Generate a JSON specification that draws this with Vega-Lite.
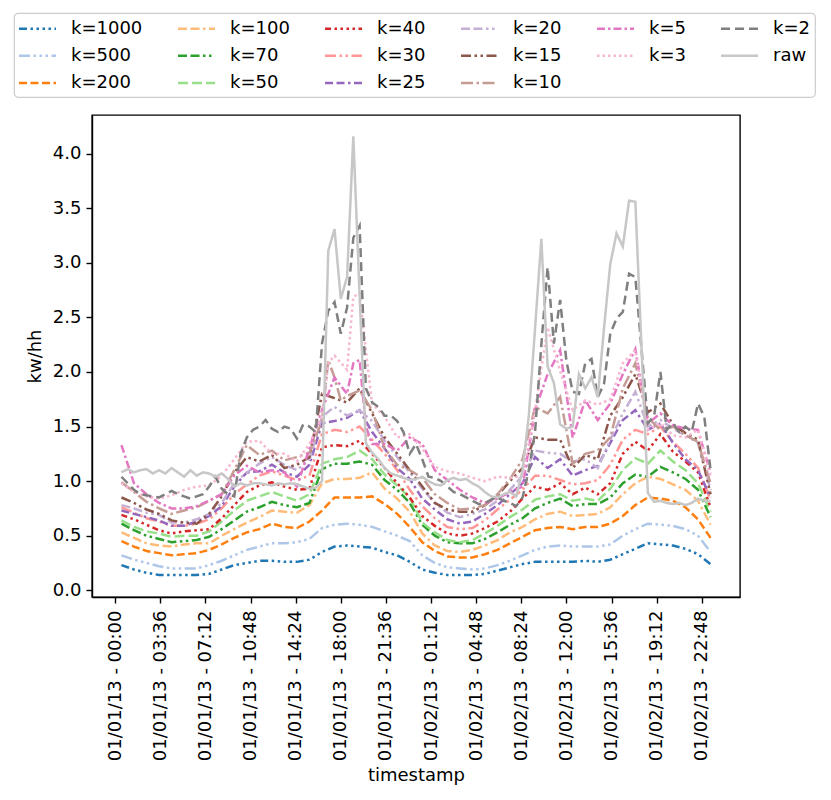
{
  "$schema": "https://vega.github.io/schema/vega-lite/v6.json",
  "width": 648,
  "height": 482,
  "autosize": {"type": "none"},
  "padding": {"left": 92, "top": 115, "right": 91, "bottom": 203},
  "background": "white",
  "data": {"values": [
    {"t":"2013-01-01T00:30","raw":1.08,"k=2":1.04,"k=1000":0.23,"k=500":0.32,"k=200":0.45,"k=100":0.53,"k=70":0.61,"k=50":0.64,"k=40":0.69,"k=30":0.76,"k=25":0.73,"k=20":0.78,"k=15":0.85,"k=10":0.99,"k=5":1.33,"k=3":0.98},
    {"t":"2013-01-01T01:00","raw":1.11,"k=2":0.98},
    {"t":"2013-01-01T01:30","raw":1.08,"k=2":0.92,"k=1000":0.19,"k=500":0.28,"k=200":0.40,"k=100":0.48,"k=70":0.55,"k=50":0.58,"k=40":0.65,"k=30":0.71,"k=25":0.70,"k=20":0.75,"k=15":0.80,"k=10":0.90,"k=5":0.98,"k=3":0.90},
    {"t":"2013-01-01T02:00","raw":1.10,"k=2":0.88},
    {"t":"2013-01-01T02:30","raw":1.11,"k=2":0.87,"k=1000":0.16,"k=500":0.25,"k=200":0.36,"k=100":0.43,"k=70":0.50,"k=50":0.54,"k=40":0.60,"k=30":0.66,"k=25":0.67,"k=20":0.71,"k=15":0.74,"k=10":0.81,"k=5":0.88,"k=3":0.86},
    {"t":"2013-01-01T03:00","raw":1.07,"k=2":0.86},
    {"t":"2013-01-01T03:30","raw":1.10,"k=2":0.85,"k=1000":0.14,"k=500":0.22,"k=200":0.34,"k=100":0.41,"k=70":0.47,"k=50":0.52,"k=40":0.55,"k=30":0.63,"k=25":0.64,"k=20":0.69,"k=15":0.70,"k=10":0.75,"k=5":0.80,"k=3":0.84},
    {"t":"2013-01-01T04:00","raw":1.07,"k=2":0.88},
    {"t":"2013-01-01T04:30","raw":1.12,"k=2":0.91,"k=1000":0.14,"k=500":0.20,"k=200":0.32,"k=100":0.40,"k=70":0.44,"k=50":0.49,"k=40":0.52,"k=30":0.59,"k=25":0.59,"k=20":0.62,"k=15":0.64,"k=10":0.70,"k=5":0.75,"k=3":0.87},
    {"t":"2013-01-01T05:00","raw":1.08,"k=2":0.88},
    {"t":"2013-01-01T05:30","raw":1.04,"k=2":0.86,"k=1000":0.14,"k=500":0.20,"k=200":0.33,"k=100":0.42,"k=70":0.45,"k=50":0.50,"k=40":0.54,"k=30":0.59,"k=25":0.59,"k=20":0.62,"k=15":0.62,"k=10":0.73,"k=5":0.75,"k=3":0.92},
    {"t":"2013-01-01T06:00","raw":1.10,"k=2":0.84},
    {"t":"2013-01-01T06:30","raw":1.05,"k=2":0.86,"k=1000":0.14,"k=500":0.20,"k=200":0.34,"k=100":0.43,"k=70":0.46,"k=50":0.50,"k=40":0.55,"k=30":0.61,"k=25":0.63,"k=20":0.65,"k=15":0.61,"k=10":0.76,"k=5":0.77,"k=3":0.95},
    {"t":"2013-01-01T07:00","raw":1.08,"k=2":0.88},
    {"t":"2013-01-01T07:30","raw":1.07,"k=2":0.95,"k=1000":0.15,"k=500":0.23,"k=200":0.37,"k=100":0.43,"k=70":0.49,"k=50":0.54,"k=40":0.56,"k=30":0.65,"k=25":0.68,"k=20":0.70,"k=15":0.70,"k=10":0.82,"k=5":0.82,"k=3":0.96},
    {"t":"2013-01-01T08:00","raw":1.04,"k=2":1.04},
    {"t":"2013-01-01T08:30","raw":1.07,"k=2":0.93,"k=1000":0.19,"k=500":0.27,"k=200":0.42,"k=100":0.50,"k=70":0.56,"k=50":0.63,"k=40":0.66,"k=30":0.75,"k=25":0.77,"k=20":0.80,"k=15":0.86,"k=10":0.88,"k=5":0.88,"k=3":1.05},
    {"t":"2013-01-01T09:00","raw":1.02,"k=2":0.88},
    {"t":"2013-01-01T09:30","raw":0.95,"k=2":0.86,"k=1000":0.23,"k=500":0.32,"k=200":0.48,"k=100":0.56,"k=70":0.64,"k=50":0.73,"k=40":0.78,"k=30":0.88,"k=25":0.95,"k=20":0.98,"k=15":1.08,"k=10":1.10,"k=5":1.05,"k=3":1.20},
    {"t":"2013-01-01T10:00","raw":0.98,"k=2":1.25},
    {"t":"2013-01-01T10:30","raw":0.96,"k=2":1.40,"k=1000":0.25,"k=500":0.37,"k=200":0.53,"k=100":0.62,"k=70":0.72,"k=50":0.82,"k=40":0.90,"k=30":0.97,"k=25":1.08,"k=20":1.08,"k=15":1.22,"k=10":1.33,"k=5":1.14,"k=3":1.36},
    {"t":"2013-01-01T11:00","raw":0.98,"k=2":1.47},
    {"t":"2013-01-01T11:30","raw":0.98,"k=2":1.50,"k=1000":0.27,"k=500":0.40,"k=200":0.56,"k=100":0.67,"k=70":0.76,"k=50":0.86,"k=40":0.96,"k=30":1.05,"k=25":1.09,"k=20":1.16,"k=15":1.18,"k=10":1.24,"k=5":1.08,"k=3":1.37},
    {"t":"2013-01-01T12:00","raw":0.97,"k=2":1.56},
    {"t":"2013-01-01T12:30","raw":0.96,"k=2":1.48,"k=1000":0.27,"k=500":0.43,"k=200":0.61,"k=100":0.73,"k=70":0.81,"k=50":0.90,"k=40":0.99,"k=30":1.09,"k=25":1.15,"k=20":1.22,"k=15":1.24,"k=10":1.28,"k=5":1.10,"k=3":1.25},
    {"t":"2013-01-01T13:00","raw":0.98,"k=2":1.45},
    {"t":"2013-01-01T13:30","raw":0.97,"k=2":1.50,"k=1000":0.26,"k=500":0.43,"k=200":0.58,"k=100":0.72,"k=70":0.78,"k=50":0.86,"k=40":0.95,"k=30":1.05,"k=25":1.08,"k=20":1.15,"k=15":1.12,"k=10":1.19,"k=5":1.08,"k=3":1.25},
    {"t":"2013-01-01T14:00","raw":0.98,"k=2":1.48},
    {"t":"2013-01-01T14:30","raw":0.97,"k=2":1.39,"k=1000":0.26,"k=500":0.44,"k=200":0.57,"k=100":0.71,"k=70":0.76,"k=50":0.82,"k=40":0.92,"k=30":1.01,"k=25":1.04,"k=20":1.10,"k=15":1.15,"k=10":1.22,"k=5":0.95,"k=3":1.18},
    {"t":"2013-01-01T15:00","raw":0.95,"k=2":1.52},
    {"t":"2013-01-01T15:30","raw":0.93,"k=2":1.50,"k=1000":0.28,"k=500":0.47,"k=200":0.63,"k=100":0.78,"k=70":0.80,"k=50":0.88,"k=40":0.93,"k=30":1.05,"k=25":1.15,"k=20":1.20,"k=15":1.22,"k=10":1.26,"k=5":1.30,"k=3":1.34},
    {"t":"2013-01-01T16:00","raw":0.94,"k=2":1.45},
    {"t":"2013-01-01T16:30","raw":1.00,"k=2":2.26,"k=1000":0.35,"k=500":0.57,"k=200":0.73,"k=100":0.98,"k=70":1.11,"k=50":1.16,"k=40":1.31,"k=30":1.43,"k=25":1.53,"k=20":1.59,"k=15":1.80,"k=10":1.55,"k=5":1.65,"k=3":1.60},
    {"t":"2013-01-01T17:00","raw":3.11,"k=2":2.56,"k=10":2.11,"k=3":2.08},
    {"t":"2013-01-01T17:30","raw":3.31,"k=2":2.64,"k=1000":0.40,"k=500":0.60,"k=200":0.85,"k=100":1.02,"k=70":1.16,"k=50":1.20,"k=40":1.33,"k=30":1.47,"k=25":1.55,"k=20":1.68,"k=15":1.76,"k=10":1.95,"k=5":1.95,"k=3":2.15},
    {"t":"2013-01-01T18:00","raw":2.67,"k=2":2.35,"k=10":1.74},
    {"t":"2013-01-01T18:30","raw":2.87,"k=2":2.59,"k=1000":0.41,"k=500":0.61,"k=200":0.85,"k=100":1.02,"k=70":1.16,"k=50":1.22,"k=40":1.32,"k=30":1.45,"k=25":1.58,"k=20":1.60,"k=15":1.72,"k=10":1.78,"k=5":1.80,"k=3":2.02},
    {"t":"2013-01-01T19:00","raw":4.16,"k=2":3.23,"k=5":2.08,"k=3":2.69},
    {"t":"2013-01-01T19:30","raw":2.70,"k=2":3.34,"k=1000":0.40,"k=500":0.60,"k=200":0.85,"k=100":1.03,"k=70":1.18,"k=50":1.28,"k=40":1.37,"k=30":1.50,"k=25":1.65,"k=20":1.65,"k=15":1.85,"k=10":1.83,"k=5":2.11,"k=3":2.72},
    {"t":"2013-01-01T20:00","raw":1.35,"k=2":1.85,"k=5":1.50,"k=3":2.20},
    {"t":"2013-01-01T20:30","raw":1.26,"k=2":1.72,"k=1000":0.39,"k=500":0.58,"k=200":0.86,"k=100":1.08,"k=70":1.15,"k=50":1.20,"k=40":1.25,"k=30":1.38,"k=25":1.45,"k=20":1.55,"k=15":1.62,"k=10":1.65,"k=5":1.34,"k=3":1.71},
    {"t":"2013-01-01T21:00","raw":1.20,"k=2":1.68},
    {"t":"2013-01-01T21:30","raw":1.12,"k=2":1.60,"k=1000":0.35,"k=500":0.54,"k=200":0.79,"k=100":0.93,"k=70":1.01,"k=50":1.06,"k=40":1.12,"k=30":1.25,"k=25":1.30,"k=20":1.37,"k=15":1.40,"k=10":1.30,"k=5":1.34,"k=3":1.59},
    {"t":"2013-01-01T22:00","raw":1.07,"k=2":1.60},
    {"t":"2013-01-01T22:30","raw":1.05,"k=2":1.55,"k=1000":0.32,"k=500":0.50,"k=200":0.70,"k=100":0.84,"k=70":0.92,"k=50":0.96,"k=40":0.98,"k=30":1.10,"k=25":1.12,"k=20":1.22,"k=15":1.25,"k=10":1.15,"k=5":1.28,"k=3":1.40},
    {"t":"2013-01-01T23:00","raw":1.03,"k=2":1.45},
    {"t":"2013-01-01T23:30","raw":1.01,"k=2":1.25,"k=1000":0.26,"k=500":0.45,"k=200":0.58,"k=100":0.72,"k=70":0.80,"k=50":0.85,"k=40":0.85,"k=30":0.92,"k=25":1.02,"k=20":1.08,"k=15":1.10,"k=10":1.10,"k=5":1.40,"k=3":1.43},
    {"t":"2013-01-02T00:00","raw":1.02,"k=2":1.34},
    {"t":"2013-01-02T00:30","raw":1.04,"k=2":1.20,"k=1000":0.19,"k=500":0.32,"k=200":0.44,"k=100":0.52,"k=70":0.60,"k=50":0.62,"k=40":0.68,"k=30":0.77,"k=25":0.84,"k=20":0.93,"k=15":0.95,"k=10":1.03,"k=5":1.34,"k=3":1.30},
    {"t":"2013-01-02T01:00","raw":1.00,"k=2":1.04},
    {"t":"2013-01-02T01:30","raw":0.97,"k=2":1.03,"k=1000":0.16,"k=500":0.25,"k=200":0.36,"k=100":0.41,"k=70":0.50,"k=50":0.53,"k=40":0.59,"k=30":0.66,"k=25":0.74,"k=20":0.80,"k=15":0.80,"k=10":0.88,"k=5":1.10,"k=3":1.13},
    {"t":"2013-01-02T02:00","raw":0.96,"k=2":1.00},
    {"t":"2013-01-02T02:30","raw":1.01,"k=2":0.95,"k=1000":0.14,"k=500":0.21,"k=200":0.31,"k=100":0.36,"k=70":0.44,"k=50":0.46,"k=40":0.52,"k=30":0.58,"k=25":0.65,"k=20":0.71,"k=15":0.74,"k=10":0.80,"k=5":1.01,"k=3":1.09},
    {"t":"2013-01-02T03:00","raw":1.03,"k=2":0.90},
    {"t":"2013-01-02T03:30","raw":1.01,"k=2":0.88,"k=1000":0.14,"k=500":0.20,"k=200":0.30,"k=100":0.35,"k=70":0.43,"k=50":0.44,"k=40":0.50,"k=30":0.56,"k=25":0.61,"k=20":0.67,"k=15":0.72,"k=10":0.74,"k=5":0.92,"k=3":1.07},
    {"t":"2013-01-02T04:00","raw":1.02,"k=2":0.85},
    {"t":"2013-01-02T04:30","raw":0.98,"k=2":0.82,"k=1000":0.14,"k=500":0.19,"k=200":0.30,"k=100":0.37,"k=70":0.43,"k=50":0.46,"k=40":0.52,"k=30":0.57,"k=25":0.63,"k=20":0.70,"k=15":0.72,"k=10":0.75,"k=5":0.85,"k=3":1.03},
    {"t":"2013-01-02T05:00","raw":0.95,"k=2":0.79},
    {"t":"2013-01-02T05:30","raw":0.90,"k=2":0.80,"k=1000":0.15,"k=500":0.20,"k=200":0.33,"k=100":0.41,"k=70":0.47,"k=50":0.52,"k=40":0.57,"k=30":0.64,"k=25":0.70,"k=20":0.74,"k=15":0.78,"k=10":0.78,"k=5":0.80,"k=3":1.00},
    {"t":"2013-01-02T06:00","raw":0.86,"k=2":0.83},
    {"t":"2013-01-02T06:30","raw":0.85,"k=2":0.85,"k=1000":0.18,"k=500":0.23,"k=200":0.37,"k=100":0.46,"k=70":0.53,"k=50":0.59,"k=40":0.63,"k=30":0.74,"k=25":0.78,"k=20":0.82,"k=15":0.87,"k=10":0.88,"k=5":0.84,"k=3":1.04},
    {"t":"2013-01-02T07:00","raw":0.88,"k=2":0.82},
    {"t":"2013-01-02T07:30","raw":0.90,"k=2":0.80,"k=1000":0.21,"k=500":0.27,"k=200":0.43,"k=100":0.53,"k=70":0.60,"k=50":0.67,"k=40":0.72,"k=30":0.83,"k=25":0.88,"k=20":0.92,"k=15":1.00,"k=10":1.02,"k=5":0.90,"k=3":1.03},
    {"t":"2013-01-02T08:00","raw":0.86,"k=2":0.77},
    {"t":"2013-01-02T08:30","raw":1.10,"k=2":0.85,"k=1000":0.24,"k=500":0.32,"k=200":0.49,"k=100":0.58,"k=70":0.66,"k=50":0.74,"k=40":0.84,"k=30":0.92,"k=25":0.98,"k=20":1.05,"k=15":1.12,"k=10":1.20,"k=5":0.95,"k=3":1.05},
    {"t":"2013-01-02T09:00","raw":1.60,"k=2":1.10},
    {"t":"2013-01-02T09:30","raw":2.40,"k=2":1.45,"k=1000":0.26,"k=500":0.37,"k=200":0.55,"k=100":0.65,"k=70":0.75,"k=50":0.83,"k=40":0.95,"k=30":1.05,"k=25":1.22,"k=20":1.28,"k=15":1.40,"k=10":1.68,"k=5":1.65,"k=3":1.65},
    {"t":"2013-01-02T10:00","raw":3.22,"k=2":2.25},
    {"t":"2013-01-02T10:30","raw":2.05,"k=2":2.96,"k=1000":0.26,"k=500":0.40,"k=200":0.57,"k=100":0.70,"k=70":0.80,"k=50":0.86,"k=40":0.92,"k=30":1.05,"k=25":1.12,"k=20":1.26,"k=15":1.38,"k=10":1.62,"k=5":1.98,"k=3":2.41},
    {"t":"2013-01-02T11:00","raw":1.90,"k=2":2.26},
    {"t":"2013-01-02T11:30","raw":1.52,"k=2":2.66,"k=1000":0.26,"k=500":0.41,"k=200":0.58,"k=100":0.72,"k=70":0.84,"k=50":0.88,"k=40":0.98,"k=30":1.01,"k=25":1.20,"k=20":1.25,"k=15":1.38,"k=10":1.77,"k=5":2.20,"k=3":2.01},
    {"t":"2013-01-02T12:00","raw":1.48,"k=2":2.10},
    {"t":"2013-01-02T12:30","raw":1.50,"k=2":1.82,"k=1000":0.26,"k=500":0.40,"k=200":0.56,"k=100":0.68,"k=70":0.77,"k=50":0.82,"k=40":0.88,"k=30":0.97,"k=25":1.05,"k=20":1.18,"k=15":1.12,"k=10":1.16,"k=5":1.40,"k=3":1.65},
    {"t":"2013-01-02T13:00","raw":1.98,"k=2":1.80},
    {"t":"2013-01-02T13:30","raw":1.85,"k=2":2.08,"k=1000":0.27,"k=500":0.40,"k=200":0.58,"k=100":0.69,"k=70":0.79,"k=50":0.84,"k=40":0.94,"k=30":0.98,"k=25":1.10,"k=20":1.20,"k=15":1.24,"k=10":1.25,"k=5":1.74,"k=3":1.74},
    {"t":"2013-01-02T14:00","raw":1.95,"k=2":2.12},
    {"t":"2013-01-02T14:30","raw":1.77,"k=2":1.77,"k=1000":0.26,"k=500":0.40,"k=200":0.58,"k=100":0.70,"k=70":0.79,"k=50":0.82,"k=40":0.88,"k=30":1.01,"k=25":1.14,"k=20":1.12,"k=15":1.20,"k=10":1.28,"k=5":1.56,"k=3":1.70},
    {"t":"2013-01-02T15:00","raw":2.40,"k=2":1.89},
    {"t":"2013-01-02T15:30","raw":2.99,"k=2":2.35,"k=1000":0.28,"k=500":0.42,"k=200":0.61,"k=100":0.76,"k=70":0.85,"k=50":0.93,"k=40":0.98,"k=30":1.15,"k=25":1.35,"k=20":1.38,"k=15":1.60,"k=10":1.40,"k=5":1.71,"k=3":1.75},
    {"t":"2013-01-02T16:00","raw":3.27,"k=2":2.49},
    {"t":"2013-01-02T16:30","raw":3.15,"k=2":2.55,"k=1000":0.33,"k=500":0.50,"k=200":0.68,"k=100":0.88,"k=70":0.98,"k=50":1.10,"k=40":1.25,"k=30":1.38,"k=25":1.56,"k=20":1.62,"k=15":1.77,"k=10":1.85,"k=5":1.98,"k=3":2.08},
    {"t":"2013-01-02T17:00","raw":3.57,"k=2":2.90},
    {"t":"2013-01-02T17:30","raw":3.56,"k=2":2.87,"k=1000":0.38,"k=500":0.56,"k=200":0.78,"k=100":0.98,"k=70":1.06,"k=50":1.21,"k=40":1.36,"k=30":1.47,"k=25":1.65,"k=20":1.82,"k=15":1.98,"k=10":2.08,"k=5":2.21,"k=3":2.20},
    {"t":"2013-01-02T18:00","raw":2.20,"k=2":2.20},
    {"t":"2013-01-02T18:30","raw":0.89,"k=2":1.53,"k=1000":0.43,"k=500":0.61,"k=200":0.85,"k=100":1.04,"k=70":1.04,"k=50":1.16,"k=40":1.28,"k=30":1.43,"k=25":1.47,"k=20":1.50,"k=15":1.63,"k=10":1.58,"k=5":1.53,"k=3":1.47},
    {"t":"2013-01-02T19:00","raw":0.81,"k=2":1.60},
    {"t":"2013-01-02T19:30","raw":0.82,"k=2":2.00,"k=1000":0.42,"k=500":0.60,"k=200":0.84,"k=100":1.02,"k=70":1.13,"k=50":1.28,"k=40":1.43,"k=30":1.50,"k=25":1.53,"k=20":1.56,"k=15":1.71,"k=10":1.47,"k=5":1.62,"k=3":1.53},
    {"t":"2013-01-02T20:00","raw":0.80,"k=2":1.47},
    {"t":"2013-01-02T20:30","raw":0.79,"k=2":1.53,"k=1000":0.41,"k=500":0.59,"k=200":0.82,"k=100":0.97,"k=70":1.08,"k=50":1.18,"k=40":1.27,"k=30":1.36,"k=25":1.35,"k=20":1.48,"k=15":1.52,"k=10":1.50,"k=5":1.51,"k=3":1.42},
    {"t":"2013-01-02T21:00","raw":0.80,"k=2":1.45},
    {"t":"2013-01-02T21:30","raw":0.78,"k=2":1.50,"k=1000":0.38,"k=500":0.56,"k=200":0.76,"k=100":0.92,"k=70":1.02,"k=50":1.10,"k=40":1.18,"k=30":1.25,"k=25":1.20,"k=20":1.42,"k=15":1.44,"k=10":1.42,"k=5":1.48,"k=3":1.40},
    {"t":"2013-01-02T22:00","raw":0.80,"k=2":1.45},
    {"t":"2013-01-02T22:30","raw":0.84,"k=2":1.71,"k=1000":0.33,"k=500":0.50,"k=200":0.65,"k=100":0.82,"k=70":0.92,"k=50":0.98,"k=40":1.08,"k=30":1.12,"k=25":1.10,"k=20":1.35,"k=15":1.38,"k=10":1.36,"k=5":1.47,"k=3":1.47},
    {"t":"2013-01-02T23:00","raw":0.82,"k=2":1.59},
    {"t":"2013-01-02T23:30","raw":0.82,"k=2":1.10,"k=1000":0.24,"k=500":0.35,"k=200":0.48,"k=100":0.60,"k=70":0.67,"k=50":0.72,"k=40":0.76,"k=30":0.83,"k=25":0.85,"k=20":0.92,"k=15":0.88,"k=10":0.98,"k=5":1.07,"k=3":1.04}
  ]},
  "transform": [
    {"fold": ["k=1000","k=500","k=200","k=100","k=70","k=50","k=40","k=30","k=25","k=20","k=15","k=10","k=5","k=3","k=2","raw"], "as": ["series","v"]},
    {"filter": "isValid(datum.v)"}
  ],
  "mark": {"type": "line", "strokeWidth": 2.5, "clip": true},
  "encoding": {
    "x": {
      "field": "t", "type": "temporal",
      "scale": {"domain": [
        {"year": 2012, "month": 12, "date": 31, "hours": 22, "minutes": 9},
        {"year": 2013, "month": 1, "date": 3, "hours": 1, "minutes": 51}
      ]},
      "axis": {
        "title": "timestamp",
        "values": [
          {"year": 2013, "month": 1, "date": 1, "hours": 0, "minutes": 0},
          {"year": 2013, "month": 1, "date": 1, "hours": 3, "minutes": 36},
          {"year": 2013, "month": 1, "date": 1, "hours": 7, "minutes": 12},
          {"year": 2013, "month": 1, "date": 1, "hours": 10, "minutes": 48},
          {"year": 2013, "month": 1, "date": 1, "hours": 14, "minutes": 24},
          {"year": 2013, "month": 1, "date": 1, "hours": 18, "minutes": 0},
          {"year": 2013, "month": 1, "date": 1, "hours": 21, "minutes": 36},
          {"year": 2013, "month": 1, "date": 2, "hours": 1, "minutes": 12},
          {"year": 2013, "month": 1, "date": 2, "hours": 4, "minutes": 48},
          {"year": 2013, "month": 1, "date": 2, "hours": 8, "minutes": 24},
          {"year": 2013, "month": 1, "date": 2, "hours": 12, "minutes": 0},
          {"year": 2013, "month": 1, "date": 2, "hours": 15, "minutes": 36},
          {"year": 2013, "month": 1, "date": 2, "hours": 19, "minutes": 12},
          {"year": 2013, "month": 1, "date": 2, "hours": 22, "minutes": 48}
        ],
        "format": "%m/%d/%y - %H:%M",
        "labelAngle": 270,
        "labelPadding": 7,
        "titlePadding": 6,
        "labelOverlap": false,
        "labelFlush": false
      }
    },
    "y": {
      "field": "v", "type": "quantitative",
      "scale": {"domain": [-0.062, 4.355], "nice": false, "zero": false},
      "axis": {
        "title": "kw/hh",
        "values": [0, 0.5, 1, 1.5, 2, 2.5, 3, 3.5, 4],
        "format": ".1f",
        "labelPadding": 5,
        "titlePadding": 8
      }
    },
    "color": {
      "field": "series", "type": "nominal",
      "scale": {
        "domain": ["k=1000","k=100","k=40","k=20","k=5","k=2","k=500","k=70","k=30","k=15","k=3","raw","k=200","k=50","k=25","k=10"],
        "range": ["#1f77b4","#ffbb78","#d62728","#c5b0d5","#e377c2","#7f7f7f","#aec7e8","#2ca02c","#ff9896","#8c564b","#f7b6d2","#c7c7c7","#ff7f0e","#98df8a","#9467bd","#c49c94"]
      },
      "legend": {"title": null}
    },
    "strokeDash": {
      "field": "series", "type": "nominal",
      "scale": {
        "domain": ["k=1000","k=100","k=40","k=20","k=5","k=2","k=500","k=70","k=30","k=15","k=3","raw","k=200","k=50","k=25","k=10"],
        "range": [
          [8,3.5,2.5,3.5,2.5,3.5,2.5,3.5,2.5,3.5],
          [9,3.5,9,3.5,2.5,3.5],
          [6,3.5,2.5,3.5,2.5,3.5,2.5,3.5,2.5,3.5],
          [9,3.5,9,3.5,2.5,3.5,2.5,3.5],
          [8,3,2.5,3],
          [9,5],
          [11,3.5,2.5,3.5,2.5,3.5,2.5,3.5],
          [9,3.5,9,3.5,2.5,3.5,2.5,3.5],
          [11,3.5,2.5,3.5,2.5,3.5],
          [10,3.5,2.5,3.5,2.5,3.5],
          [2.5,3],
          [1,0],
          [8,3.5],
          [10,4],
          [8,3.5,8,3.5,2.5,3.5],
          [12,3.5,2.5,3.5]
        ]
      },
      "legend": {"title": null}
    }
  },
  "config": {
    "font": "DejaVu Sans",
    "view": {"stroke": "black", "strokeWidth": 1.4},
    "axis": {
      "grid": false,
      "domainColor": "black", "domainWidth": 1.4,
      "tickColor": "black", "tickWidth": 1.4, "tickSize": 6,
      "labelFont": "DejaVu Sans", "labelFontSize": 18, "labelColor": "black",
      "titleFont": "DejaVu Sans", "titleFontSize": 18, "titleFontWeight": "normal", "titleColor": "black"
    },
    "legend": {
      "orient": "none", "legendX": -78, "legendY": -102,
      "columns": 6, "direction": "horizontal",
      "symbolType": "M-2,0H2", "symbolSize": 342, "symbolStrokeWidth": 2.5, "symbolOffset": 8,
      "labelFont": "DejaVu Sans", "labelFontSize": 18, "labelColor": "black",
      "labelOffset": 23, "labelLimit": 300,
      "columnPadding": 30, "rowPadding": 7.2,
      "padding": 5, "strokeColor": "#cccccc", "strokeWidth": 1.2,
      "cornerRadius": 4, "fillColor": "white"
    }
  }
}
